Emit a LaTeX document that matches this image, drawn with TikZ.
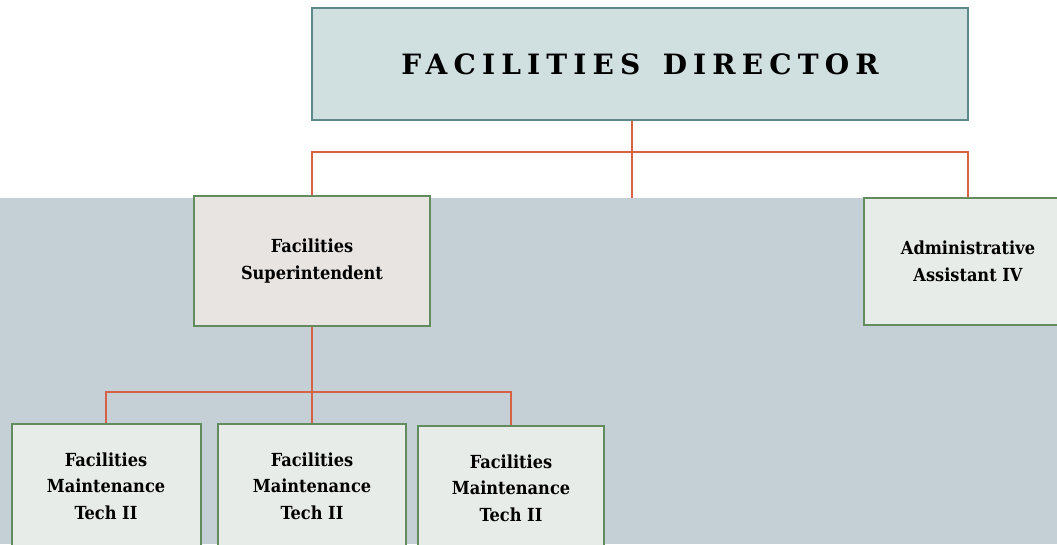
\documentclass[tikz,border=0pt]{standalone}
\usepackage{fontspec}
\setmainfont{DejaVu Serif}
\newfontfamily\narrowserif{DejaVu Serif Condensed}
\usepackage{xcolor}
\usetikzlibrary{positioning}

\definecolor{bandgray}{RGB}{197,208,214}
\definecolor{dirfill}{RGB}{208,223,224}
\definecolor{dirline}{RGB}{95,138,135}
\definecolor{supfill}{RGB}{232,228,225}
\definecolor{boxfill}{RGB}{232,236,232}
\definecolor{boxline}{RGB}{98,140,94}
\definecolor{linkred}{RGB}{214,98,70}

\tikzset{
	rolebox/.style={draw=boxline, line width=1.5pt, fill=boxfill, inner sep=0pt,
		align=center, font=\narrowserif\bfseries\fontsize{13.5}{20}\selectfont},
	link/.style={draw=linkred, line width=1.2pt}
}

\begin{document}
\begin{tikzpicture}[x=0.75pt, y=-0.75pt]
			\useasboundingbox (0,0) rectangle (1057,544);
			\clip (0,0) rectangle (1057,544);
			\fill[bandgray] (0,198) rectangle (1057,544);

			\node (director) at (640,64) [draw=dirline, line width=1.5pt, fill=dirfill, inner sep=0pt,
				minimum width=492pt, minimum height=84pt,
				font=\bfseries\fontsize{21}{26}\selectfont\addfontfeature{LetterSpace=22}] {FACILITIES\hspace{0.8em}DIRECTOR};
			\node (super) at (312,261) [rolebox, fill=supfill, minimum width=177pt, minimum height=97.5pt] {Facilities\\Superintendent};
			\node (assistant) at (968,261.5) [rolebox, minimum width=156pt, minimum height=95.25pt] {Administrative\\Assistant IV};
			\node (techa) at (106,486) [rolebox, minimum width=141.75pt, minimum height=93pt] {Facilities\\Maintenance\\Tech II};
			\node (techb) at (312,486) [rolebox, minimum width=141pt, minimum height=93pt] {Facilities\\Maintenance\\Tech II};
			\node (techc) at (511,488) [rolebox, minimum width=139.5pt, minimum height=93pt] {Facilities\\Maintenance\\Tech II};

			\coordinate (bar) at (632,152);
			\coordinate (gap) at (632,198);
			\coordinate (techbar) at (312,392);

			\draw[link] ([xshift=-6pt]director.south) -- (gap);
			\draw[link] (super.north) -- (super.north |- bar) -- (assistant.north |- bar) -- (assistant.north);
			\draw[link] (super.south) -- (techb.north);
			\draw[link] (techa.north) -- (techa.north |- techbar) -- (techc.north |- techbar) -- (techc.north);
		\end{tikzpicture}
\end{document}
